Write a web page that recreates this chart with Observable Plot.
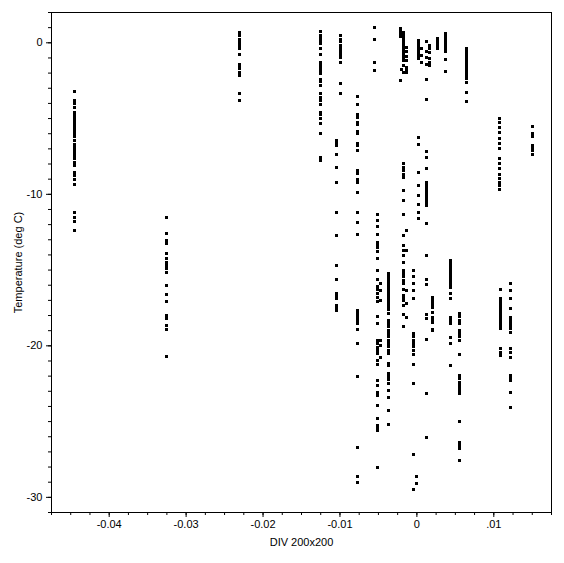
<!DOCTYPE html>
<html><head><meta charset="utf-8">
<script src="https://cdn.jsdelivr.net/npm/d3@7"></script>
<script src="https://cdn.jsdelivr.net/npm/@observablehq/plot@0.6"></script>
<style>html,body{margin:0;padding:0;background:#fff}#chart svg{display:block}</style>
</head><body><div id="chart"></div>
<script>
const xLabel = "DIV 200x200";
const yLabel = "Temperature (deg C)";
const xMajorTicks = [-0.04, -0.03, -0.02, -0.01, 0, 0.01];
const yMajorTicks = [-30, -20, -10, 0];

// column x positions (DIV) and the temperatures observed in each column
const colX = [
  -0.0445, -0.0325, -0.0230, -0.0125, -0.0099, -0.0104, -0.0077, -0.0055,
  -0.0051, -0.0047, -0.0037, -0.0018, -0.0014, -0.0004, -0.0001, 0.0002,
  0.0013, 0.0016, 0.0006, 0.0020, 0.0027, 0.0037, 0.0044, 0.0055,
  0.0065, 0.0107, 0.0109, 0.0122, 0.0150, -0.0021, -0.0017, -0.0014, -0.0020
];
const colY = [
  [-3.2,-3.8,-4.0,-4.3,-4.6,-4.8,-4.9,-5.1,-5.35,-5.5,-5.7,-5.8,-6.0,-6.2,-6.45,-6.7,-6.9,-7.1,-7.3,-7.45,-7.65,-7.9,-8.1,-8.55,-8.75,-9.0,-9.35,-11.2,-11.5,-11.8,-12.4],
  [-11.55,-12.6,-13.05,-13.25,-13.9,-14.25,-14.5,-14.7,-14.9,-15.15,-16.0,-16.6,-17.1,-18.0,-18.2,-18.65,-18.9,-20.7],
  [0.7,0.5,0.25,0.05,-0.2,-0.4,-0.75,-1.4,-1.55,-1.7,-1.95,-2.15,-3.35,-3.8],
  [0.75,0.5,0.3,0.15,-0.05,-0.35,-0.75,-1.3,-1.45,-1.6,-1.85,-2.05,-2.4,-2.55,-2.8,-3.35,-3.6,-3.8,-4.1,-4.6,-4.75,-5.0,-5.35,-6.0,-7.55,-7.8],
  [0.45,0.25,0.1,-0.15,-0.35,-0.6,-0.8,-1.0,-1.3,-2.7,-3.35],
  [-6.45,-6.6,-6.8,-7.35,-8.2,-9.2,-11.2,-12.7,-14.7,-15.65,-16.55,-16.75,-16.85,-17.35,-17.5,-17.7],
  [-3.55,-4.05,-4.75,-4.9,-5.25,-5.4,-5.85,-6.0,-6.65,-6.8,-7.1,-8.45,-8.6,-9.0,-9.2,-9.85,-11.2,-11.85,-12.65,-17.65,-17.8,-18.0,-18.2,-18.35,-18.55,-18.9,-19.85,-22.05,-26.7,-28.65,-29.0],
  [1.0,0.2,-1.3,-1.85],
  [-11.3,-11.75,-12.1,-12.65,-13.15,-13.3,-13.5,-13.8,-14.25,-15.0,-15.6,-16.1,-16.3,-16.55,-16.8,-17.1,-18.05,-18.55,-19.65,-19.85,-20.1,-20.3,-20.5,-20.95,-21.2,-22.3,-22.6,-23.05,-23.3,-23.95,-24.8,-25.25,-25.45,-25.6,-28.0],
  [-15.9,-16.35,-17.0,-19.65,-20.0,-20.75],
  [-15.25,-15.45,-15.6,-15.8,-16.0,-16.2,-16.4,-16.6,-16.8,-17.0,-17.2,-17.4,-17.6,-17.85,-18.35,-18.55,-18.75,-19.0,-19.2,-19.4,-19.65,-19.85,-20.05,-20.3,-20.5,-21.15,-21.3,-21.85,-22.05,-22.2,-22.5,-22.95,-23.4,-24.25,-25.2],
  [-7.95,-8.25,-8.45,-8.7,-8.9,-9.75,-10.4,-11.3,-12.7,-13.4,-13.7,-14.05,-14.5,-15.05,-15.25,-15.45,-15.7,-15.9,-16.25,-16.7,-16.9,-17.0,-17.35,-17.9,-18.75],
  [-12.4,-13.7,-16.35,-17.2,-18.1],
  [-15.05,-15.45,-15.9,-16.35,-16.9,-19.2,-19.4,-19.65,-19.85,-20.05,-20.3,-20.55,-21.2,-22.5,-27.15,-29.45],
  [-28.65,-29.1],
  [0.15,-0.05,-0.25,-0.45,-0.65,-0.85,-1.05,-6.25,-6.7,-8.55,-9.4,-10.1,-10.65,-11.2,-11.6],
  [0.1,-0.55,-0.95,-1.4,-2.4,-3.75,-7.2,-7.55,-8.3,-9.2,-9.35,-9.55,-9.75,-9.95,-10.15,-10.35,-10.55,-10.75,-11.95,-14.05,-15.6,-15.95,-17.9,-18.2,-19.55,-23.15,-26.05],
  [-0.2,-0.4,-0.65,-1.05,-1.3,-1.5],
  [-0.4,-0.85,-1.3],
  [-16.8,-16.95,-17.15,-17.35,-17.45,-17.8,-18.1,-18.25,-18.45,-18.9,-19.0],
  [0.3,0.1,-0.1,-0.3,-0.4],
  [0.6,0.4,0.2,0.0,-0.2,-0.4,-0.6,-1.1,-1.9],
  [-14.35,-14.55,-14.75,-14.95,-15.15,-15.35,-15.55,-15.75,-15.95,-16.15,-16.55,-16.9,-18.1,-18.35,-18.55,-19.45,-19.85,-21.3],
  [-17.85,-18.05,-18.35,-18.55,-19.0,-19.2,-19.4,-19.65,-20.55,-21.95,-22.15,-22.45,-22.6,-22.8,-23.0,-23.15,-25.0,-26.35,-26.6,-26.8,-27.6],
  [-0.4,-0.55,-0.75,-0.95,-1.15,-1.35,-1.55,-1.75,-1.95,-2.15,-2.35,-2.6,-3.25,-3.85],
  [-5.0,-5.25,-5.6,-5.9,-6.3,-6.65,-7.0,-7.65,-7.95,-8.3,-8.7,-8.95,-9.2,-9.4,-9.65],
  [-16.25,-16.9,-17.1,-17.3,-17.45,-17.65,-17.85,-18.05,-18.25,-18.45,-18.65,-18.85,-20.2,-20.45,-20.65],
  [-15.9,-16.35,-16.9,-17.55,-18.1,-18.25,-18.45,-18.65,-18.85,-19.1,-20.2,-20.45,-20.75,-21.95,-22.15,-22.3,-23.05,-24.1],
  [-5.55,-6.0,-6.2,-6.8,-7.0,-7.1,-7.35],
  [0.95,0.8,0.7,0.55,0.4,-2.5],
  [0.7,0.5,0.3,0.15,-0.05,-0.25,-0.45,-0.65,-0.85,-1.05,-1.15,-1.5,-1.95],
  [-0.3,-0.6,-0.9,-1.2,-1.65,-1.8,-1.95],
  [-1.75]
];

const points = colX.flatMap((x, i) => colY[i].map(y => ({x, y})));
const xMinorTicks = d3.range(-19, 8).map(i => +(i * 0.0025).toFixed(4));
const yMinorTicks = d3.range(-31, 3);
const fmtX = d => d === 0 ? "0" : d > 0 ? String(d).replace(/^0/, "") : d.toFixed(2);

const chart = Plot.plot({
  width: 564,
  height: 563,
  marginLeft: 51,
  marginRight: 13,
  marginTop: 12,
  marginBottom: 51,
  style: {fontFamily: "'Liberation Sans', Arial, sans-serif", fontSize: "11px", color: "black", background: "white"},
  x: {domain: [-0.0475, 0.0175]},
  y: {domain: [-31, 2]},
  marks: [
    Plot.axisX(xMinorTicks, {tickSize: 3, tickFormat: () => "", label: null}),
    Plot.axisX(xMajorTicks, {tickSize: 5, tickPadding: 3, tickFormat: fmtX, label: null}),
    Plot.axisY(yMinorTicks, {tickSize: 3, tickFormat: () => "", label: null}),
    Plot.axisY(yMajorTicks, {tickSize: 5, tickPadding: 4, tickFormat: d => String(d), label: null}),
    Plot.frame({stroke: "black"}),
    Plot.dot(points, {x: "x", y: "y", symbol: "square", r: 1.7, fill: "black", stroke: null, shapeRendering: "crispEdges"}),
    Plot.text([xLabel], {frameAnchor: "bottom", dy: 33, fill: "black"}),
    Plot.text([yLabel], {frameAnchor: "left", dx: -33.5, rotate: -90, textAnchor: "middle", fill: "black"})
  ]
});
document.getElementById("chart").appendChild(chart);
</script>
</body></html>
